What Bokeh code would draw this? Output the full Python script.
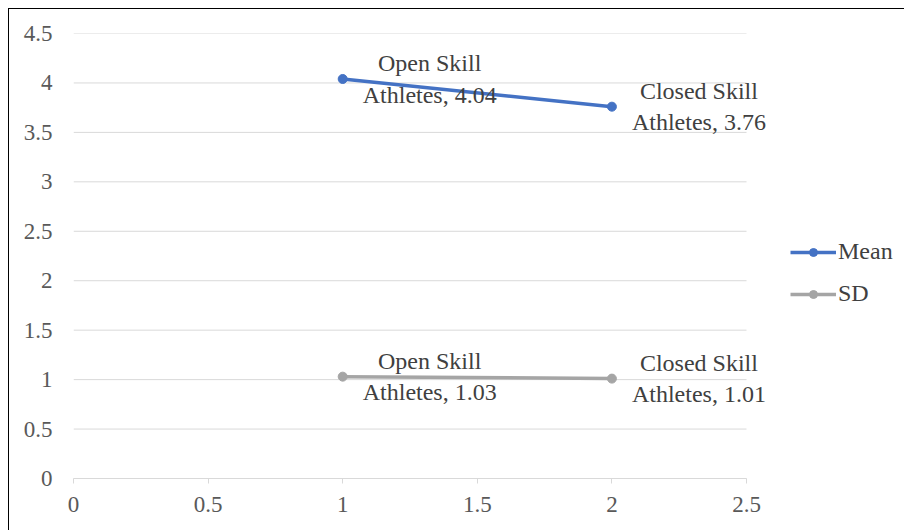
from bokeh.plotting import figure
from bokeh.models import Range1d, SingleIntervalTicker, Legend, LegendItem, ColumnDataSource
from bokeh.core.properties import value
from bokeh.embed import file_html
from bokeh.resources import INLINE

groups = ["Open Skill\nAthletes", "Closed Skill\nAthletes"]
x_pos = [1, 2]
mean_vals = [4.04, 3.76]
sd_vals = [1.03, 1.01]
x_tick_labels = ["0", "0.5", "1", "1.5", "2", "2.5"]
y_tick_labels = ["0", "0.5", "1", "1.5", "2", "2.5", "3", "3.5", "4", "4.5"]
x_min, x_max = 0, 2.5
y_min, y_max = 0, 4.5

FONT = "Liberation Serif"
BLUE = "#4472C4"
GRAY = "#A5A5A5"

# frame: 673 px for 2.5 units -> extend to the right edge so labels/legend are not clipped
px_per_unit = 673 / (x_max - x_min)
fig_w, fig_h = 896, 522
border_l = 64
frame_w = fig_w - border_l
p = figure(width=fig_w, height=fig_h, output_backend="svg", toolbar_location=None,
           x_range=Range1d(x_min, x_min + frame_w / px_per_unit), y_range=Range1d(y_min, y_max),
           min_border_left=border_l, min_border_right=0, min_border_top=24, min_border_bottom=53)
p.styles = {"margin-left": "8px", "margin-top": "8px",
            "border-left": "1px solid #000000", "border-top": "1px solid #000000"}
p.outline_line_color = None
p.xgrid.visible = False
p.ygrid.visible = False

y_ticks = [i * 0.5 for i in range(len(y_tick_labels))]
p.segment(x0=[x_min] * len(y_ticks), y0=y_ticks, x1=[x_max] * len(y_ticks), y1=y_ticks,
          line_color="#D9D9D9", line_width=1)

p.xaxis.ticker = SingleIntervalTicker(interval=0.5)
p.yaxis.ticker = SingleIntervalTicker(interval=0.5)
p.xaxis.bounds = (x_min, x_max)
p.xaxis.major_label_overrides = {i * 0.5: t for i, t in enumerate(x_tick_labels)}
p.yaxis.major_label_overrides = {i * 0.5: t for i, t in enumerate(y_tick_labels)}
for ax in (p.xaxis, p.yaxis):
    ax.major_label_text_font = FONT
    ax.major_label_text_font_size = "23px"
    ax.major_label_text_color = "#595959"
    ax.minor_tick_line_color = None
p.xaxis.axis_line_color = "#D9D9D9"
p.xaxis.major_tick_line_color = "#D9D9D9"
p.xaxis.major_tick_in = 0
p.xaxis.major_tick_out = 5
p.xaxis.major_label_standoff = 13
p.yaxis.axis_line_color = None
p.yaxis.major_tick_line_color = None
p.yaxis.major_label_standoff = 15

src = ColumnDataSource(dict(
    x=x_pos, mean=mean_vals, sd=sd_vals,
    mean_lbl=[f"{g}, {v:.2f}" for g, v in zip(groups, mean_vals)],
    sd_lbl=[f"{g}, {v:.2f}" for g, v in zip(groups, sd_vals)],
))

l1 = p.line("x", "mean", source=src, line_color=BLUE, line_width=3.5)
s1 = p.scatter("x", "mean", source=src, size=9, fill_color=BLUE, line_color=BLUE)
l2 = p.line("x", "sd", source=src, line_color=GRAY, line_width=3.5)
s2 = p.scatter("x", "sd", source=src, size=9, fill_color=GRAY, line_color=GRAY)

for col, ycol in (("mean_lbl", "mean"), ("sd_lbl", "sd")):
    p.text("x", ycol, text=col, source=src, x_offset=87, y_offset=0,
           text_align="center", text_baseline="middle",
           text_font=value(FONT), text_font_size="24px", text_color="#404040",
           text_line_height=1.2)

legend = Legend(items=[LegendItem(label="Mean", renderers=[l1, s1]),
                       LegendItem(label="SD", renderers=[l2, s2])],
                location=(717, 171), orientation="vertical")
legend.margin = 0
legend.padding = 0
legend.border_line_color = None
legend.background_fill_alpha = 0
legend.glyph_width = 46
legend.glyph_height = 20
legend.label_height = 20
legend.label_standoff = 2
legend.spacing = 15
legend.label_text_font = FONT
legend.label_text_font_size = "24px"
legend.label_text_color = "#404040"
p.add_layout(legend, "center")

open("out.html", "w").write(file_html(p, INLINE))
